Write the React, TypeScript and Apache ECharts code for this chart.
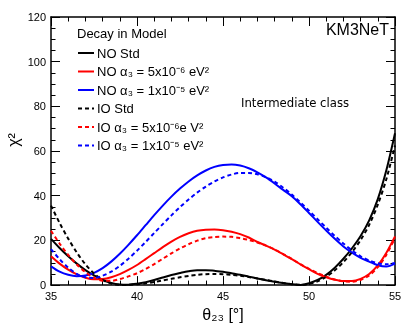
import React, { useEffect, useRef } from "react";
import * as echarts from "echarts";

const theta = [35, 35.5, 36, 36.5, 37, 37.5, 38, 38.5, 39, 39.5, 40, 40.5, 41, 41.5, 42, 42.5, 43, 43.5, 44, 44.5, 45, 45.5, 46, 46.5, 47, 47.5, 48, 48.5, 49, 49.5, 50, 50.5, 51, 51.5, 52, 52.5, 53, 53.5, 54, 54.5, 55];

const noStd = [20.7, 16.6, 12.9, 9.6, 6.7, 4.3, 2.4, 1.0, 0.3, 0.2, 0.6, 1.3, 2.3, 3.4, 4.5, 5.4, 6.2, 6.7, 6.7, 6.4, 6.0, 5.3, 4.6, 3.8, 3.0, 2.2, 1.5, 0.9, 0.4, 0.1, 0.8, 2.3, 4.6, 7.8, 11.8, 16.5, 22, 29, 38.5, 51.5, 68];
const noA5e6 = [12.9, 9.6, 6.9, 4.8, 3.3, 2.6, 2.7, 3.5, 4.9, 6.8, 9.0, 11.6, 14.3, 17.0, 19.5, 21.6, 23.2, 24.3, 24.8, 24.9, 24.6, 23.9, 22.8, 21.3, 19.3, 17.7, 15.9, 13.8, 11.6, 9.3, 7.1, 5.0, 3.5, 2.4, 1.8, 1.8, 2.8, 5.0, 8.8, 14.5, 21.8];
const noA1e5 = [8.4, 6.0, 4.6, 4.0, 4.3, 5.5, 7.6, 10.5, 14.0, 18.0, 22.3, 26.8, 31.3, 35.6, 39.6, 43.2, 46.4, 49.1, 51.3, 52.9, 53.8, 54.0, 53.5, 52.3, 50.5, 48.2, 45.5, 42.6, 39.8, 36.2, 32.3, 28.3, 24.4, 20.7, 17.3, 14.5, 12.2, 10.5, 8.9, 8.3, 9.6];
const ioStd = [35.6, 27.8, 20.8, 14.6, 9.3, 5.2, 2.3, 0.7, 0.1, 0.1, 0.4, 0.8, 1.4, 2.1, 2.8, 3.5, 4.1, 4.6, 4.9, 5.0, 4.9, 4.6, 4.2, 3.6, 3.0, 2.3, 1.6, 0.9, 0.4, 0.1, 0.5, 1.7, 3.7, 6.6, 10.3, 14.8, 20.2, 27, 36, 47.5, 62.5];
const ioA5e6 = [24.3, 18.6, 13.5, 9.2, 5.8, 3.3, 2.0, 1.9, 2.7, 3.9, 5.3, 7.2, 9.4, 11.8, 14.2, 16.4, 18.3, 19.9, 21.0, 21.5, 21.7, 21.6, 21.0, 20.2, 19.1, 17.7, 16.0, 13.9, 11.7, 9.4, 7.3, 5.4, 3.8, 2.5, 1.7, 1.5, 2.3, 4.3, 8.0, 13.6, 21.0];
const ioA1e5 = [16.1, 11.6, 7.8, 5.0, 3.5, 3.2, 4.2, 6.0, 8.6, 11.8, 15.4, 19.3, 23.3, 27.3, 31.2, 34.9, 38.3, 41.4, 44.1, 46.4, 48.2, 49.5, 50.2, 50.2, 49.6, 48.3, 46.3, 43.6, 40.5, 37.0, 33.3, 29.5, 25.7, 22.0, 18.6, 15.5, 12.9, 11.0, 9.8, 9.3, 9.9];

const seriesNames = [
  "NO Std",
  "NO α₃ = 5x10⁻⁶ eV²",
  "NO α₃ = 1x10⁻⁵ eV²",
  "IO Std",
  "IO α₃ = 5x10⁻⁶e V²",
  "IO α₃ = 1x10⁻⁵ eV²",
];
const seriesValues = [noStd, noA5e6, noA1e5, ioStd, ioA5e6, ioA1e5];
const seriesColors = ["#000000", "#ff0000", "#0000ff", "#000000", "#ff0000", "#0000ff"];
const seriesDashed = [false, false, false, true, true, true];

export default function App() {
  const ref = useRef<HTMLDivElement>(null);
  useEffect(() => {
    const chart = echarts.init(ref.current!, null, { renderer: "svg" });
    const font = "'Liberation Sans', Arial, Helvetica, sans-serif";
    const axisCommon = (showLabel: boolean) => ({
      axisLine: { show: true, onZero: false, lineStyle: { color: "#000", width: 1.5 } },
      axisTick: { show: true, inside: true, length: 9, lineStyle: { color: "#000", width: 1 } },
      axisLabel: { show: showLabel, color: "#000", fontSize: 11, fontFamily: font, margin: 5 },
      splitLine: { show: false },
      minorSplitLine: { show: false },
    });
    const xMinor = { show: true, splitNumber: 5, length: 4.5, lineStyle: { color: "#000", width: 1 } };
    const yMinor = { show: true, splitNumber: 4, length: 4.5, lineStyle: { color: "#000", width: 1 } };
    const xBase = { type: "value", min: 35, max: 55, interval: 5 };
    const yBase = { type: "value", min: 0, max: 120, interval: 20 };
    chart.setOption({
      animation: false,
      grid: { left: 51, right: 22, top: 17, bottom: 40, containLabel: false },
      xAxis: [
        {
          ...xBase,
          position: "bottom",
          ...axisCommon(true),
          minorTick: xMinor,
          name: "θ₂₃ [°]",
          nameLocation: "middle",
          nameGap: 19,
          nameTextStyle: { fontSize: 16, color: "#000", fontFamily: font },
        },
        { ...xBase, position: "top", ...axisCommon(false), minorTick: xMinor },
      ],
      yAxis: [
        { ...yBase, position: "left", ...axisCommon(true), minorTick: yMinor },
        { ...yBase, position: "right", ...axisCommon(false), minorTick: yMinor },
      ],
      legend: {
        orient: "vertical",
        left: 72,
        top: 41.5,
        padding: 5,
        itemWidth: 16,
        itemHeight: 14,
        itemGap: 5.5,
        selectedMode: false,
        itemStyle: { opacity: 0 },
        textStyle: { fontSize: 13, fontFamily: font, color: "#000", padding: [0, 0, 0, -2] },
        data: seriesNames,
      },
      graphic: [
        {
          type: "text",
          x: 77,
          y: 33,
          style: { text: "Decay in Model", fill: "#000", fontSize: 13, fontFamily: font, align: "left", verticalAlign: "middle", textAlign: "left", textVerticalAlign: "middle" },
        },
        {
          type: "text",
          x: 389,
          y: 29,
          style: { text: "KM3NeT", fill: "#000", fontSize: 16, fontFamily: font, align: "right", verticalAlign: "middle", textAlign: "right", textVerticalAlign: "middle" },
        },
        {
          type: "text",
          x: 241,
          y: 103,
          style: { text: "Intermediate class", fill: "#000", fontSize: 11.7, fontFamily: "'DejaVu Sans', sans-serif", align: "left", verticalAlign: "middle", textAlign: "left", textVerticalAlign: "middle" },
        },
        {
          type: "text",
          x: 13,
          y: 140,
          rotation: Math.PI / 2,
          style: { text: "χ²", fill: "#000", fontSize: 16, fontFamily: font, align: "center", verticalAlign: "middle", textAlign: "center", textVerticalAlign: "middle" },
        },
      ],
      series: seriesNames.map((name, k) => ({
        type: "line",
        name,
        xAxisIndex: 0,
        yAxisIndex: 0,
        data: theta.map((t, i) => [t, seriesValues[k][i]]),
        symbol: "none",
        showSymbol: false,
        smooth: 0.3,
        clip: true,
        lineStyle: { color: seriesColors[k], width: 2, type: seriesDashed[k] ? [4, 3] : "solid" },
        itemStyle: { color: seriesColors[k], opacity: 0 },
      })),
    });
    return () => chart.dispose();
  }, []);
  return <div ref={ref} style={{ position: "fixed", left: 0, top: 0, width: 417, height: 327 }} />;
}
